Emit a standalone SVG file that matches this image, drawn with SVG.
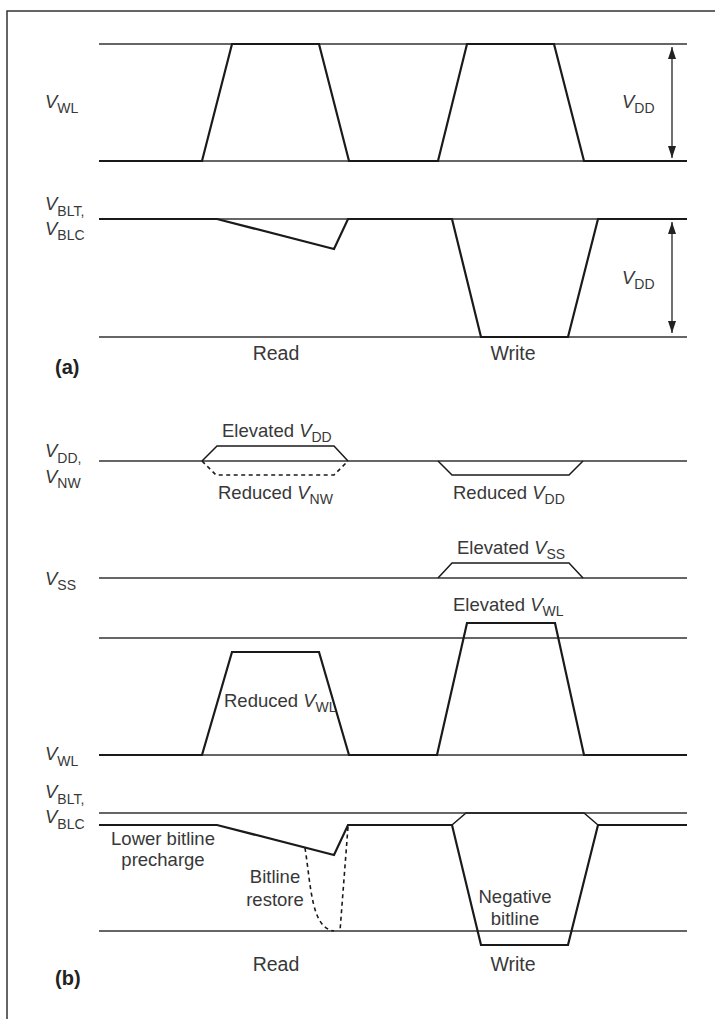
<svg xmlns="http://www.w3.org/2000/svg" width="715" height="1019" viewBox="0 0 715 1019">
<style>
.frame{stroke:#333;stroke-width:1.5;fill:none}
.ref{stroke:#333;stroke-width:1.3;fill:none}
.sig{stroke:#1a1a1a;stroke-width:2.2;fill:none;stroke-linejoin:miter}
.sigt{stroke:#1a1a1a;stroke-width:1.5;fill:none}
.dash{stroke:#1a1a1a;stroke-width:1.6;fill:none;stroke-dasharray:4,3.5}
.arr{stroke:#222;stroke-width:1.3;fill:none}
text{font-family:"Liberation Sans",Arial,sans-serif;font-size:18.5px;fill:#383838}
.i{font-style:italic}
.s{font-size:14px}
.b{font-weight:bold;font-size:20px;fill:#222}
.m{text-anchor:middle}
.rw{font-size:19.5px}
</style>
<defs>
<marker id="ah" viewBox="0 0 12 8" refX="12" refY="4" markerWidth="12" markerHeight="8" markerUnits="userSpaceOnUse" orient="auto-start-reverse">
<path d="M0,0 L12,4 L0,8 z" fill="#222"/>
</marker>
</defs>
<rect width="715" height="1019" fill="#fff"/>
<g id="frame">
<path class="frame" d="M7,1019 V11 H715"/>
</g>

<!-- Panel (a) -->
<g id="a-wl">
<line class="ref" x1="99" y1="44" x2="687" y2="44"/>
<line class="ref" x1="99" y1="161" x2="687" y2="161"/>
<path class="sig" d="M99,161 H202 L232,44 H319 L349,161 H438 L467,44 H554 L584,161 H687"/>
<text x="45" y="108"><tspan class="i">V</tspan><tspan class="s" dy="5">WL</tspan></text>
</g>
<g id="a-bl">
<line class="ref" x1="99" y1="219" x2="687" y2="219"/>
<line class="ref" x1="99" y1="337" x2="687" y2="337"/>
<path class="sig" d="M99,219 H217 L334,249 L348,219 H452 L481,337 H568 L598,219 H687"/>
<text x="45" y="210"><tspan class="i">V</tspan><tspan class="s" dy="6">BLT,</tspan></text>
<text x="45" y="235"><tspan class="i">V</tspan><tspan class="s" dy="5">BLC</tspan></text>
</g>
<g id="a-labels">
<text x="622" y="108"><tspan class="i">V</tspan><tspan class="s" dy="5">DD</tspan></text>
<text x="622" y="284"><tspan class="i">V</tspan><tspan class="s" dy="5">DD</tspan></text>
<text class="m rw" x="276" y="360">Read</text>
<text class="m rw" x="513" y="360">Write</text>
<text class="b" x="55" y="374">(a)</text>
</g>

<!-- Panel (b) -->
<g id="b-vdd">
<line class="ref" x1="99" y1="461" x2="687" y2="461"/>
<path class="sigt" d="M202,461 L217,446 H334 L348,461"/>
<path class="dash" d="M202,461 L216,475 H334 L348,461"/>
<path class="sigt" d="M438,461 L452,475 H569 L583,461"/>
<text x="45" y="457"><tspan class="i">V</tspan><tspan class="s" dy="6">DD,</tspan></text>
<text x="45" y="483"><tspan class="i">V</tspan><tspan class="s" dy="5">NW</tspan></text>
<text x="222" y="437">Elevated <tspan class="i">V</tspan><tspan class="s" dy="5">DD</tspan></text>
<text x="218" y="499">Reduced <tspan class="i">V</tspan><tspan class="s" dy="5">NW</tspan></text>
<text x="453" y="499">Reduced <tspan class="i">V</tspan><tspan class="s" dy="5">DD</tspan></text>
</g>
<g id="b-vss">
<line class="ref" x1="99" y1="578" x2="687" y2="578"/>
<path class="sigt" d="M438,578 L452,563 H569 L583,578"/>
<text x="45" y="585"><tspan class="i">V</tspan><tspan class="s" dy="5">SS</tspan></text>
<text x="457" y="554">Elevated <tspan class="i">V</tspan><tspan class="s" dy="5">SS</tspan></text>
</g>
<g id="b-wl">
<line class="ref" x1="99" y1="638" x2="687" y2="638"/>
<line class="ref" x1="99" y1="755" x2="687" y2="755"/>
<path class="sig" d="M99,755 H202 L232,652 H319 L349,755 H437 L467,623 H555 L584,755 H687"/>
<text x="45" y="760"><tspan class="i">V</tspan><tspan class="s" dy="6">WL</tspan></text>
<text x="224" y="707">Reduced <tspan class="i">V</tspan><tspan class="s" dy="5">WL</tspan></text>
<text x="453" y="611">Elevated <tspan class="i">V</tspan><tspan class="s" dy="5">WL</tspan></text>
</g>
<g id="b-bl">
<line class="ref" x1="99" y1="813" x2="687" y2="813"/>
<line class="ref" x1="99" y1="931" x2="687" y2="931"/>
<path class="sig" d="M99,825 H217 L334,855 L348,825 H452 L481,945 H568 L598,825 H687"/>
<path class="sigt" d="M452,825 L466,813 H584 L598,825"/>
<path class="dash" d="M305,848 C311,885 311,928 334,931"/>
<path class="dash" d="M348,827 L340,931"/>
<text x="45" y="798"><tspan class="i">V</tspan><tspan class="s" dy="6">BLT,</tspan></text>
<text x="45" y="823"><tspan class="i">V</tspan><tspan class="s" dy="6">BLC</tspan></text>
<text class="m" x="163" y="845">Lower bitline</text>
<text class="m" x="163" y="866">precharge</text>
<text class="m" x="275" y="883">Bitline</text>
<text class="m" x="275" y="906">restore</text>
<text class="m" x="515" y="903">Negative</text>
<text class="m" x="515" y="925">bitline</text>
<text class="m rw" x="276" y="971">Read</text>
<text class="m rw" x="513" y="971">Write</text>
<text class="b" x="55" y="985">(b)</text>
</g>

<g id="connectors">
<line class="arr" x1="672" y1="47" x2="672" y2="158" marker-start="url(#ah)" marker-end="url(#ah)"/>
<line class="arr" x1="672" y1="222" x2="672" y2="333" marker-start="url(#ah)" marker-end="url(#ah)"/>
</g>
</svg>
